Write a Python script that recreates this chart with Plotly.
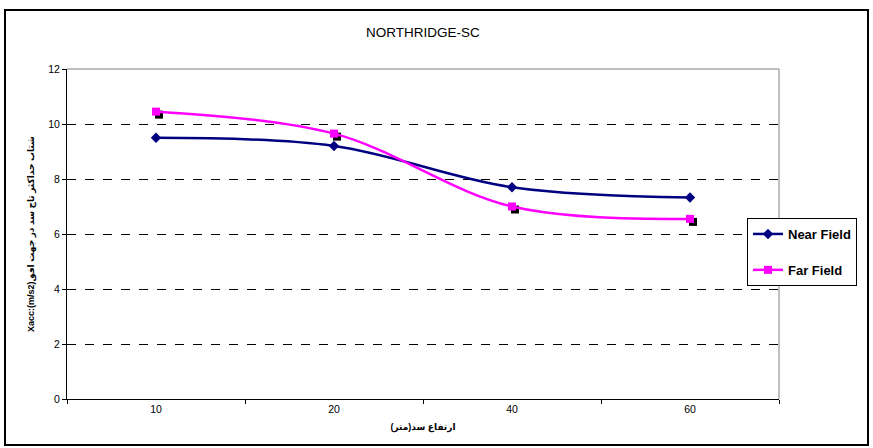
import plotly.graph_objects as go

# Dam height categories (m) and peak crest acceleration values
heights = ["10", "20", "40", "60"]
near_field = [9.5, 9.2, 7.7, 7.33]
far_field = [10.45, 9.65, 7.0, 6.55]
y_ticks = [0, 2, 4, 6, 8, 10, 12]

W, H = 873, 448
ML, MR, MT, MB = 67, 94, 69, 49
plot_w = W - ML - MR
plot_h = H - MT - MB

FONT = "Arial, 'Liberation Sans', 'DejaVu Sans', 'Noto Sans', sans-serif"

# pixel offset for the marker drop-shadow, converted to axis units
shadow_px = 3
cat_px = plot_w / 4.0
dx = shadow_px / cat_px
dy = shadow_px / (plot_h / 12.0)

fig = go.Figure()

# shadow squares behind the Far Field markers (base axes, offset ranges)
fig.add_trace(go.Scatter(
    x=heights, y=far_field, mode="markers",
    marker=dict(symbol="square", size=8, color="black"),
    xaxis="x", yaxis="y", showlegend=False, hoverinfo="skip",
))

fig.add_trace(go.Scatter(
    x=heights, y=near_field, mode="lines+markers", name="<b>Near Field</b>",
    line=dict(color="#000080", width=2.5, shape="spline"),
    marker=dict(symbol="diamond", size=8, color="#000080"),
    xaxis="x2", yaxis="y2", legendgroup="a",
))
fig.add_trace(go.Scatter(
    x=heights, y=far_field, mode="lines+markers", name="<b>Far Field</b>",
    line=dict(color="#FF00FF", width=2.5, shape="spline"),
    marker=dict(symbol="square", size=8, color="#FF00FF"),
    xaxis="x2", yaxis="y2", legendgroup="b",
))

def px_x(p):
    return (p - ML) / plot_w

def px_y(p):
    return (H - MB - p) / plot_h

fig.update_layout(
    width=W, height=H,
    margin=dict(l=ML, r=MR, t=MT, b=MB),
    paper_bgcolor="white", plot_bgcolor="white",
    font=dict(family=FONT, size=10, color="black"),
    title=dict(text="NORTHRIDGE-SC", x=0.5, xref="paper", y=1 - 32 / H,
               yanchor="middle", font=dict(size=13.5, color="black")),
    showlegend=True,
    legend=dict(
        x=px_x(747), y=px_y(218), xanchor="left", yanchor="top",
        bgcolor="white", bordercolor="black", borderwidth=1,
        font=dict(size=13, color="black", family=FONT),
        traceorder="grouped", tracegroupgap=16,
        itemwidth=30, entrywidth=118, entrywidthmode="pixels",
    ),
    xaxis=dict(
        type="category", range=[-0.5 - dx, 3.5 - dx],
        visible=False, fixedrange=True,
    ),
    yaxis=dict(
        range=[0 + dy, 12 + dy], visible=False, fixedrange=True,
    ),
    xaxis2=dict(
        type="category", range=[-0.5, 3.5], overlaying="x",
        showgrid=False, zeroline=False,
        showline=True, linecolor="black", linewidth=1,
        ticks="outside", tickson="boundaries", ticklen=4, tickcolor="black",
        tickfont=dict(size=10.5, color="black"),
        title=dict(text="<b>ارتفاع سد(متر)</b>", font=dict(size=9), standoff=10),
        anchor="y2",
    ),
    yaxis2=dict(
        range=[0, 12], overlaying="y", tickvals=y_ticks,
        showgrid=True, gridcolor="black", gridwidth=1, griddash="dash",
        zeroline=False,
        showline=True, linecolor="black", linewidth=1,
        ticks="outside", ticklen=4, tickcolor="black",
        tickfont=dict(size=10.5, color="black"),
        title=dict(text="<b>Xacc:(m/s2)شتاب حداکثر تاج سد در جهت افق</b>",
                   font=dict(size=9), standoff=12),
        anchor="x2",
    ),
    shapes=[
        # gray plot-area frame (top and right edges)
        dict(type="line", xref="paper", yref="paper", x0=0, x1=1, y0=1, y1=1,
             line=dict(color="#808080", width=1), layer="between"),
        dict(type="line", xref="paper", yref="paper", x0=1, x1=1, y0=0, y1=1,
             line=dict(color="#808080", width=1), layer="between"),
        # outer chart border
        dict(type="rect", xref="paper", yref="paper",
             x0=px_x(5), x1=px_x(868), y0=px_y(445), y1=px_y(10),
             line=dict(color="black", width=2), fillcolor="rgba(0,0,0,0)"),
    ],
)

fig.write_html("out.html")
